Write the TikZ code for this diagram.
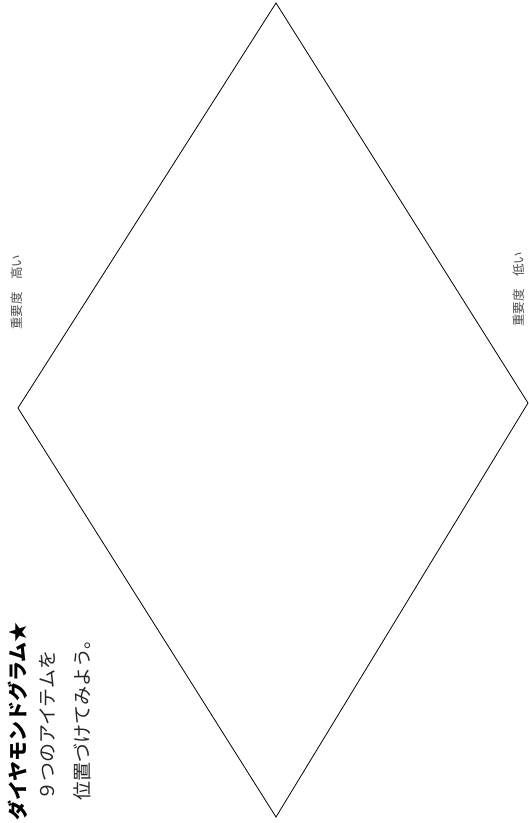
\documentclass[tikz,border=0pt]{standalone}
\usepackage{fontspec}
\newfontfamily\jp{Noto Sans CJK JP}
\begin{document}
\begin{tikzpicture}[x=1pt,y=-1pt,
  edge/.style={draw=black,line width=0.8pt,line join=miter},
  titletext/.style={rotate=90,anchor=west,inner sep=0pt,font=\jp\bfseries\fontsize{20}{20}\selectfont},
  bodytext/.style={rotate=90,anchor=west,inner sep=0pt,text=black!85,font=\jp\fontsize{19}{19}\selectfont},
  axislabel/.style={rotate=90,anchor=west,inner sep=0pt,text=black!70,font=\jp\fontsize{12.5}{12.5}\selectfont}]
\useasboundingbox (0,0) rectangle (529,823);
\coordinate (top) at (276,3);
\coordinate (left) at (18,408);
\coordinate (right) at (528,403);
\coordinate (bottom) at (276,817);
\draw[edge] (top) -- (right) -- (bottom) -- (left) -- cycle;
\node[titletext] (title) at (18,821) {ダイヤモンドグラム★};
\node[bodytext] (line1) at (47,801) {９つのアイテムを};
\node[bodytext] (line2) at (82,801) {位置づけてみよう。};
\node[axislabel] (high) at (17,330) {重要度　高い};
\node[axislabel] (low) at (519,327) {重要度　低い};
\end{tikzpicture}
\end{document}
